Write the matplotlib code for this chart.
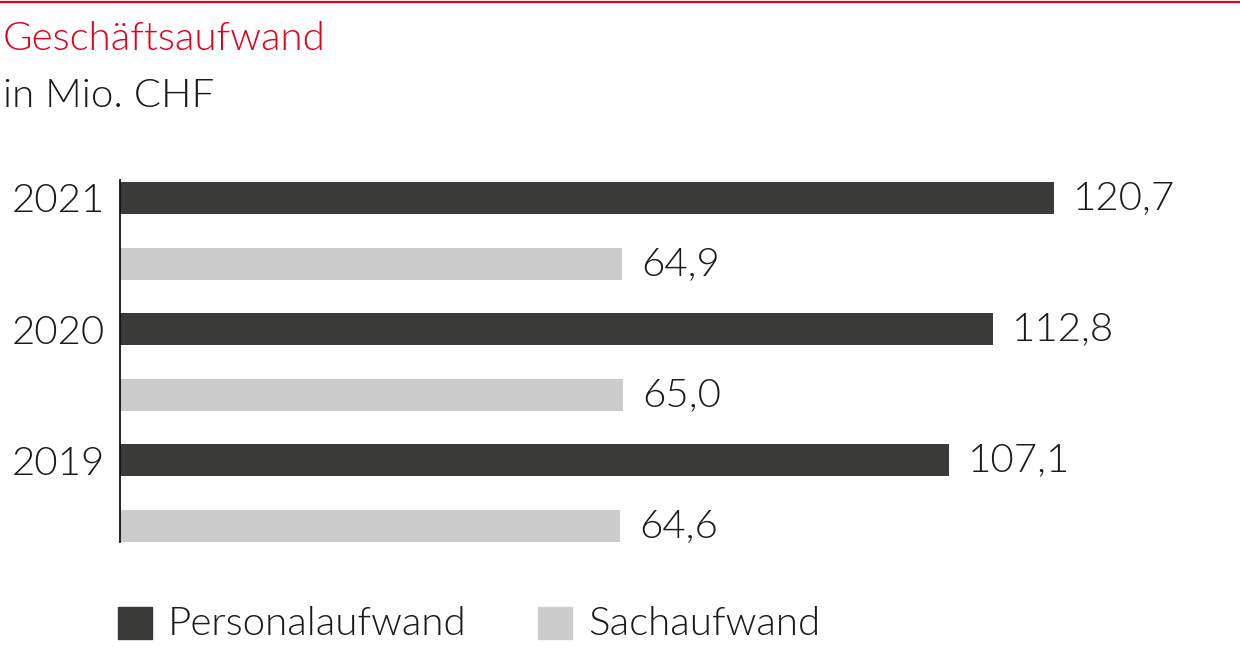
import matplotlib
matplotlib.use("Agg")
import matplotlib.pyplot as plt
from matplotlib.lines import Line2D
from matplotlib.patches import Rectangle

plt.rcParams['font.family'] = ['Lato', 'DejaVu Sans']
plt.rcParams['font.weight'] = 300

years = ["2021", "2020", "2019"]
personal = [120.7, 112.8, 107.1]
sach = [64.9, 65.0, 64.6]
labels = ["Personalaufwand", "Sachaufwand"]

dark = "#3a3a38"
light = "#cccccc"
red = "#e2001a"
txt = "#1a1a1a"

W, H = 1240, 652
px_per_unit = 7.74
fs = 29
fig = plt.figure(figsize=(W / 100, H / 100), dpi=100)

# axes placed in pixel terms: left edge x=120, top y=180, bottom y=542
ax = fig.add_axes([120 / W, (H - 542) / H, 1078 / W, 362 / H])

pos_p = [2 * i for i in range(len(years))]
pos_s = [2 * i + 1 for i in range(len(years))]
ax.barh(pos_p, personal, height=0.49, color=dark)
ax.barh(pos_s, sach, height=0.49, color=light)

ax.set_xlim(0, 1078 / px_per_unit)
ax.set_ylim(5.244, -0.274)

for spine in ["top", "right", "bottom"]:
    ax.spines[spine].set_visible(False)
ax.spines["left"].set_linewidth(1.3)
ax.spines["left"].set_color("#111111")
ax.set_xticks([])
ax.set_yticks(pos_p)
ax.set_yticklabels(years, fontsize=fs, color=txt)
ax.tick_params(axis="y", length=0, pad=11)

def fmt(v):
    return f"{v:.1f}".replace(".", ",")

off = 19 / px_per_unit
for p, v in zip(pos_p, personal):
    ax.text(v + off, p, fmt(v), va="center", ha="left", fontsize=fs, color=txt)
for p, v in zip(pos_s, sach):
    ax.text(v + off, p, fmt(v), va="center", ha="left", fontsize=fs, color=txt)

# header
fig.add_artist(Line2D([0, 1], [1 - 2 / H, 1 - 2 / H], color=red, lw=1.6))
fig.text(3 / W, 1 - 50 / H, "Geschäftsaufwand", color=red, fontsize=fs,
         ha="left", va="baseline")
fig.text(3 / W, 1 - 107 / H, "in Mio. CHF", color=txt, fontsize=fs,
         ha="left", va="baseline")

# legend
for x0, c, lab in [(118, dark, labels[0]), (538, light, labels[1])]:
    fig.add_artist(Rectangle((x0 / W, 1 - 639 / H), 34 / W, 32 / H,
                             color=c, transform=fig.transFigure))
    fig.text((x0 + 50) / W, 1 - 624 / H, lab, color=txt, fontsize=fs,
             ha="left", va="center")

fig.savefig("out.png", dpi=100)
